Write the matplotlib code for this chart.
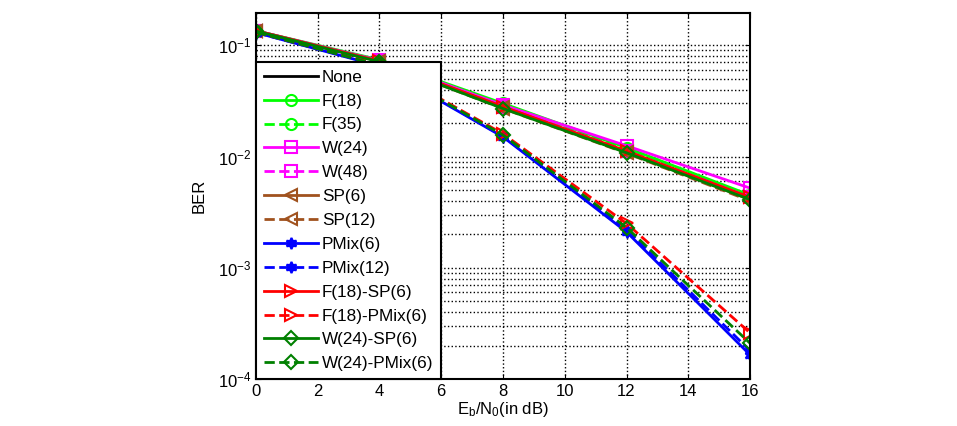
import matplotlib
matplotlib.use('Agg')
import matplotlib.pyplot as plt
from matplotlib.ticker import LogLocator, NullFormatter

plt.rcParams['font.family'] = ['Liberation Sans', 'DejaVu Sans']
plt.rcParams['mathtext.default'] = 'regular'

snr = [0, 4, 8, 12, 16]

labels = ['None', 'F(18)', 'F(35)', 'W(24)', 'W(48)', 'SP(6)', 'SP(12)',
          'PMix(6)', 'PMix(12)', 'F(18)-SP(6)', 'F(18)-PMix(6)',
          'W(24)-SP(6)', 'W(24)-PMix(6)']

ber_none = [0.135, 0.072, 0.028, 0.0110, 0.0042]
ber_f18 = [0.135, 0.074, 0.030, 0.0120, 0.0045]
ber_f35 = [0.134, 0.073, 0.029, 0.0115, 0.0044]
ber_w24 = [0.135, 0.073, 0.029, 0.0125, 0.0052]
ber_w48 = [0.134, 0.072, 0.028, 0.0112, 0.0043]
ber_sp6 = [0.134, 0.072, 0.028, 0.0110, 0.0041]
ber_sp12 = [0.133, 0.071, 0.027, 0.0107, 0.0040]
ber_pmix6 = [0.130, 0.065, 0.0150, 0.0021, 0.000165]
ber_pmix12 = [0.130, 0.066, 0.0152, 0.0022, 0.000180]
ber_f18_sp6 = [0.135, 0.072, 0.028, 0.0112, 0.0043]
ber_f18_pmix6 = [0.131, 0.067, 0.0160, 0.0025, 0.00026]
ber_w24_sp6 = [0.134, 0.071, 0.027, 0.0108, 0.0041]
ber_w24_pmix6 = [0.131, 0.066, 0.0156, 0.0023, 0.00021]

series = [ber_none, ber_f18, ber_f35, ber_w24, ber_w48, ber_sp6, ber_sp12,
          ber_pmix6, ber_pmix12, ber_f18_sp6, ber_f18_pmix6,
          ber_w24_sp6, ber_w24_pmix6]

star6 = (6, 1, 0)
styles = [
    ('black', '-', None, 'none'),
    ('#00ff00', '-', 'o', 'none'),
    ('#00ff00', '--', 'o', 'none'),
    ('#ff00ff', '-', 's', 'none'),
    ('#ff00ff', '--', 's', 'none'),
    ('#a0521e', '-', '<', 'none'),
    ('#a0521e', '--', '<', 'none'),
    ('#0000ff', '-', star6, 'full'),
    ('#0000ff', '--', star6, 'full'),
    ('#ff0000', '-', '>', 'none'),
    ('#ff0000', '--', '>', 'none'),
    ('#008000', '-', 'D', 'none'),
    ('#008000', '--', 'D', 'none'),
]

fig = plt.figure(figsize=(9.57, 4.26), dpi=100)
ax = fig.add_axes([0.2675, 0.1103, 0.5162, 0.8592])

for lab, y, (c, ls, m, fs) in zip(labels, series, styles):
    ms = 7 if m == 'D' else 8
    ax.plot(snr, y, color=c, linestyle=ls, marker=m, fillstyle=fs,
            markersize=ms, markeredgewidth=1.5, linewidth=2, label=lab)

ax.set_yscale('log')
ax.set_xlim(0, 16)
ax.set_ylim(1e-4, 0.195)
ax.set_xticks(range(0, 17, 2))
ax.yaxis.set_major_locator(LogLocator(base=10, numticks=10))
ax.yaxis.set_minor_locator(LogLocator(base=10, subs=range(2, 10), numticks=10))
ax.yaxis.set_minor_formatter(NullFormatter())
ax.grid(True, which='major', color='black', linestyle=':', linewidth=1.0)
ax.grid(True, which='minor', axis='y', color='black', linestyle=':', linewidth=1.0)
ax.tick_params(which='both', direction='in', top=True, right=True, labelsize=12)
ax.tick_params(which='minor', length=0)
for s in ax.spines.values():
    s.set_linewidth(1.5)

ax.set_xlabel(r'E$_b$/N$_0$(in dB)', fontsize=12, labelpad=1)
ax.set_ylabel('BER', fontsize=12, labelpad=8)

leg = ax.legend(loc='lower left', borderaxespad=0, fontsize=12.3, fancybox=False,
                framealpha=1, edgecolor='black', handlelength=3.2,
                labelspacing=0.52, borderpad=0.45, handletextpad=0.2)
leg.get_frame().set_linewidth(1.5)

fig.savefig('out.png', dpi=100)
